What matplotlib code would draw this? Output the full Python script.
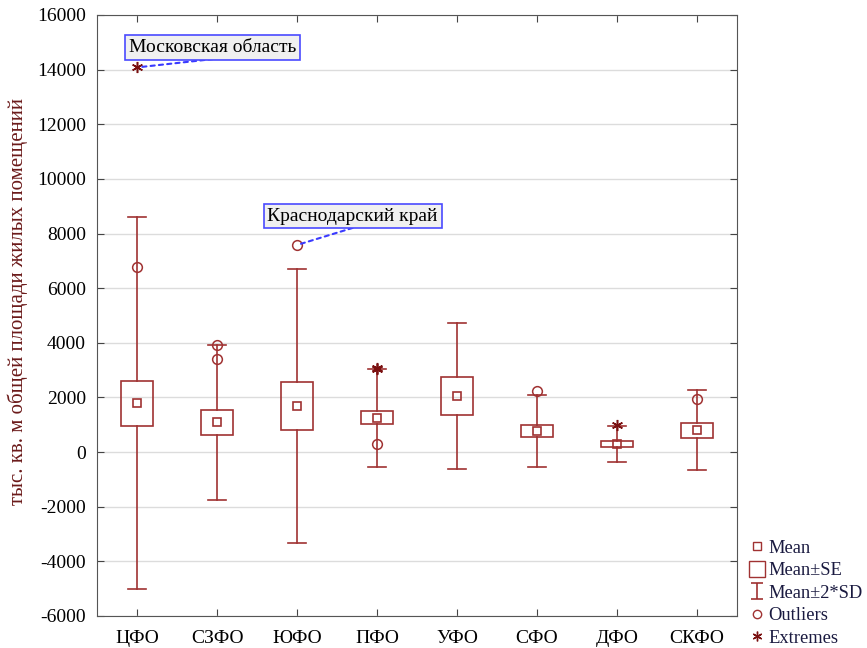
import numpy as np
import matplotlib
matplotlib.use("Agg")
import matplotlib.pyplot as plt
from matplotlib.lines import Line2D
from matplotlib.path import Path

plt.rcParams['font.family'] = ['Liberation Serif', 'DejaVu Serif']
plt.rcParams['axes.unicode_minus'] = False

# данные
cats = ['ЦФО', 'СЗФО', 'ЮФО', 'ПФО', 'УФО', 'СФО', 'ДФО', 'СКФО']
means = [1790, 1085, 1675, 1260, 2055, 780, 290, 800]
se = [820, 450, 885, 230, 680, 210, 100, 275]
sd2 = [6800, 2830, 5020, 1790, 2680, 1320, 650, 1460]   # 2*SD

out_idx = [0, 1, 1, 2, 3, 5, 7]
out_val = [6780, 3930, 3420, 7580, 300, 2230, 1950]
ext_idx = [0, 3, 3, 6]
ext_val = [14080, 3050, 3080, 1000]

red = '#a03232'
dark = '#7a1010'

fig = plt.figure(figsize=(8.67, 6.48), dpi=100)
ax = fig.add_axes([0.1119, 0.0494, 0.7382, 0.9275])

x = np.arange(1, len(cats) + 1)
bw = 0.41
cw = 0.22
for i, m in enumerate(means):
    xi = x[i]
    # усы
    ax.plot([xi, xi], [m + se[i], m + sd2[i]], color=red, lw=1.2, zorder=3)
    ax.plot([xi, xi], [m - se[i], m - sd2[i]], color=red, lw=1.2, zorder=3)
    ax.plot([xi - cw / 2, xi + cw / 2], [m + sd2[i]] * 2, color=red, lw=1.2, zorder=3)
    ax.plot([xi - cw / 2, xi + cw / 2], [m - sd2[i]] * 2, color=red, lw=1.2, zorder=3)
    # коробка
    ax.add_patch(plt.Rectangle((xi - bw / 2, m - se[i]), bw, 2 * se[i],
                               fill=False, edgecolor=red, lw=1.2, zorder=3))

ax.plot(x, means, 's', ms=6, mfc='none', mec=red, mew=1.2, zorder=4)
ax.plot(x[out_idx], out_val, 'o', ms=7, mfc='none', mec=red, mew=1.1, zorder=4)
ax.plot(x[ext_idx], ext_val, marker=(6, 2, 0), ls='none', ms=8, mec=dark, mew=1.1, zorder=4)

ax.set_xlim(0.5, 8.5)
ax.set_ylim(-6000, 16000)
ax.set_yticks(np.arange(-6000, 16001, 2000))
ax.set_xticks(x)
ax.set_xticklabels(cats)
ax.yaxis.grid(True, color='#dcdcdc', lw=1)
ax.set_axisbelow(True)
ax.tick_params(direction='in', top=True, right=True, labelsize=14, length=5, color='#444')
ax.tick_params(axis='y', pad=8)
ax.tick_params(axis='x', pad=10)
for s in ax.spines.values():
    s.set_color('#555')
ax.set_ylabel('тыс. кв. м общей площади жилых помещений', color='#6b1a1a', fontsize=15)
ax.yaxis.set_label_coords(-0.108, 0.524)

arr = dict(arrowstyle='-', linestyle=(0, (2, 2)), color='#3a3aff', lw=1.5,
           relpos=(0.5, -0.2), patchA=None, shrinkA=0, shrinkB=3)
box = dict(boxstyle='square,pad=0.2', fc='#f0f0f0', ec='#4a4aff', lw=1.2)
ax.annotate('Московская область', xy=(1, 14080), xytext=(0.9, 14820),
            fontsize=14, ha='left', va='center', bbox=box, arrowprops=arr, zorder=5)
ax.annotate('Краснодарский край', xy=(3, 7580), xytext=(2.63, 8640),
            fontsize=14, ha='left', va='center', bbox=box, arrowprops=arr, zorder=5)

sdpath = Path([(-0.35, 0.5), (0.35, 0.5), (0, 0.5), (0, -0.5), (-0.35, -0.5), (0.35, -0.5)],
              [Path.MOVETO, Path.LINETO, Path.MOVETO, Path.LINETO, Path.MOVETO, Path.LINETO])
handles = [
    Line2D([], [], ls='none', marker='s', ms=6, mfc='none', mec=red),
    Line2D([], [], ls='none', marker='s', ms=11, mfc='none', mec=red),
    Line2D([], [], ls='none', marker=sdpath, ms=12, mfc='none', mec=red, mew=1.2),
    Line2D([], [], ls='none', marker='o', ms=6, mfc='none', mec=red),
    Line2D([], [], ls='none', marker=(6, 2, 0), ms=7, mec=dark),
]
labels = ['Mean', 'Mean±SE', 'Mean±2*SD', 'Outliers', 'Extremes']
fig.legend(handles, labels, loc='lower left', bbox_to_anchor=(0.85, -0.018),
           frameon=False, fontsize=13.3, handlelength=0.8, handletextpad=0.2,
           labelspacing=0.3, borderpad=0.2, labelcolor='#1a1a40')

fig.savefig('out.png', dpi=100)
